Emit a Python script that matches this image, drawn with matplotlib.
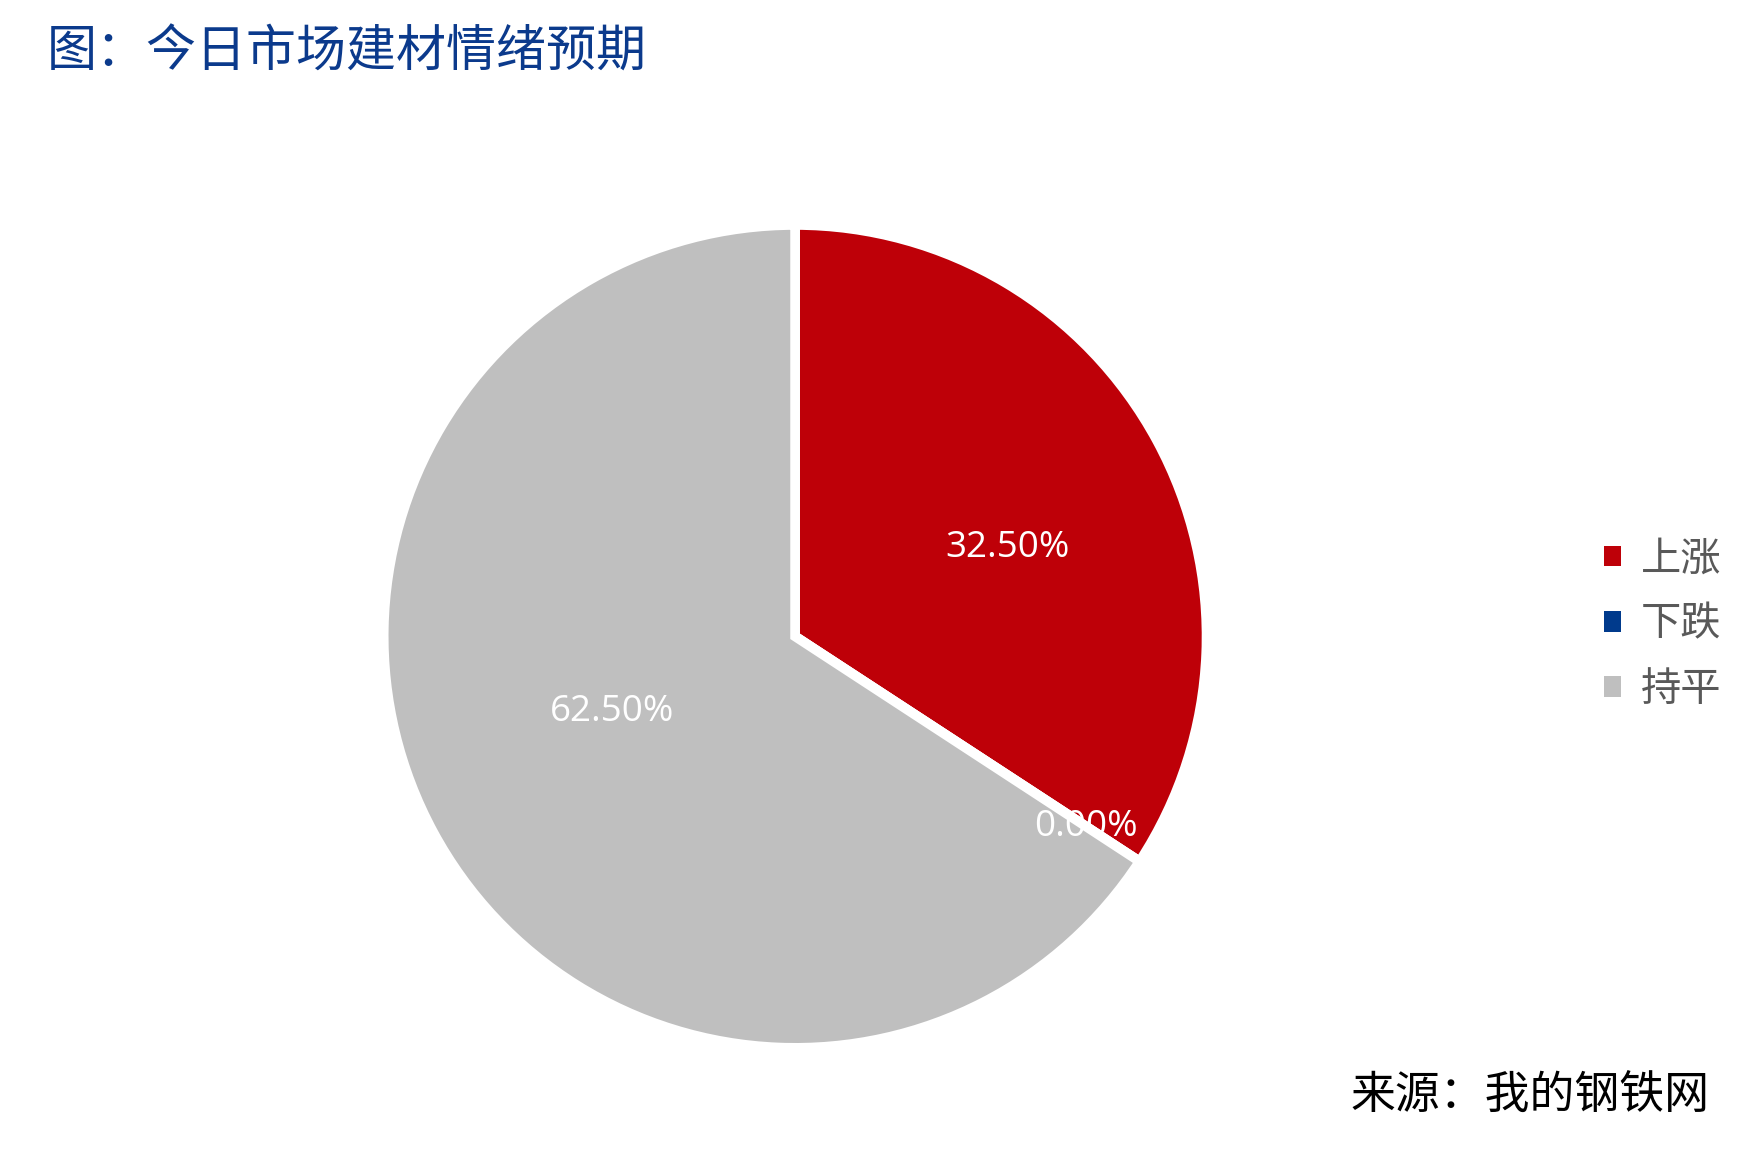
import matplotlib.pyplot as plt
import numpy as np
from matplotlib.patches import Patch

plt.rcParams['font.family'] = ['Noto Sans CJK SC', 'DejaVu Sans']

# data
categories = ["上涨", "下跌", "持平"]
values = [32.5, 0.0, 62.5]
pct_labels = ["32.50%", "0.00%", "62.50%"]
colors = ["#BE0008", "#003A8C", "#BFBFBF"]
# label placement (fraction of radius, angle shift in degrees)
label_dist = [0.56, 0.845, 0.48]
label_shift = [-5.8, 0.0, -6.0]

fig = plt.figure(figsize=(17.64, 11.69), dpi=100)
fig.patch.set_facecolor("white")

ax = fig.add_axes([0.2175, 0.1036, 0.4665, 0.7040])
wedges, _ = ax.pie(values, colors=colors, startangle=90, counterclock=False,
                   radius=1.0,
                   wedgeprops=dict(edgecolor="white", linewidth=7))
ax.set_xlim(-1, 1)
ax.set_ylim(-1, 1)
ax.set_aspect("equal")
ax.axis("off")

for w, txt, d, s in zip(wedges, pct_labels, label_dist, label_shift):
    ang = np.deg2rad((w.theta1 + w.theta2) / 2 + s)
    ax.text(d * np.cos(ang), d * np.sin(ang), txt, ha="center", va="center",
            color="white", fontsize=26.5, family=["Open Sans", "DejaVu Sans"])

handles = [Patch(facecolor=c, edgecolor="none") for c in colors]
fig.legend(handles, categories, loc="center left",
           bbox_to_anchor=(1604 / 1764, 1 - 624 / 1169),
           frameon=False, fontsize=29, labelcolor="#595959",
           handlelength=0.42, handleheight=0.42, handletextpad=0.5,
           labelspacing=0.6, borderpad=0, borderaxespad=0)

fig.text(0.0266, 0.9547, "图：今日市场建材情绪预期", ha="left", va="center",
         fontsize=36, color="#0B3A8C", fontweight="medium")
fig.text(0.969, 0.0625, "来源：我的钢铁网", ha="right", va="center",
         fontsize=32.3, color="black")

fig.savefig("out.png", dpi=100, facecolor="white")
